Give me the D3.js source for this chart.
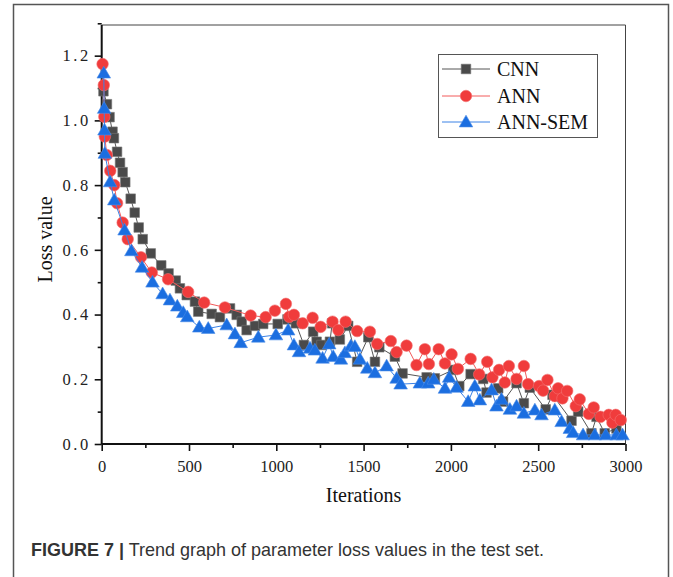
<!DOCTYPE html>
<html>
<head>
<meta charset="utf-8">
<script src="https://cdn.jsdelivr.net/npm/d3@7"></script>
<style>
  html, body { margin: 0; padding: 0; background: #fff; }
  svg { display: block; }
</style>
</head>
<body>
<svg id="chart" width="673" height="577"></svg>
<script>
// ---- Data (iterations, loss value) ----
const seriesNames = ["CNN", "ANN", "ANN-SEM"];
const cnn = [[10,1.09],[30,1.05],[45,1.01],[62,0.965],[70,0.945],[88,0.903],[105,0.869],[120,0.84],[135,0.809],[166,0.758],[189,0.715],[212,0.669],[235,0.633],[281,0.589],[341,0.552],[383,0.527],[424,0.505],[448,0.481],[487,0.46],[534,0.44],[553,0.409],[630,0.402],[677,0.392],[735,0.419],[773,0.399],[802,0.378],[830,0.352],[878,0.365],[925,0.371],[1008,0.371],[1064,0.385],[1112,0.373],[1158,0.306],[1211,0.347],[1231,0.316],[1259,0.306],[1307,0.316],[1320,0.373],[1364,0.323],[1412,0.365],[1463,0.254],[1527,0.33],[1565,0.254],[1590,0.299],[1679,0.27],[1723,0.218],[1861,0.206],[1908,0.203],[2013,0.229],[2048,0.179],[2113,0.216],[2185,0.201],[2204,0.159],[2271,0.172],[2299,0.131],[2376,0.188],[2418,0.126],[2452,0.174],[2543,0.107],[2582,0.152],[2691,0.072],[2729,0.1],[2805,0.033],[2834,0.084],[2881,0.033],[2948,0.048]];
const ann = [[5,1.174],[12,1.109],[15,1.011],[18,0.95],[29,0.893],[49,0.844],[72,0.80],[88,0.744],[120,0.684],[149,0.633],[225,0.577],[287,0.53],[380,0.509],[495,0.47],[587,0.437],[706,0.422],[853,0.397],[939,0.392],[992,0.412],[1055,0.433],[1074,0.393],[1101,0.399],[1151,0.373],[1208,0.39],[1254,0.362],[1322,0.378],[1355,0.352],[1397,0.378],[1463,0.349],[1536,0.347],[1578,0.309],[1656,0.318],[1689,0.284],[1746,0.304],[1803,0.244],[1851,0.293],[1874,0.247],[1930,0.293],[1966,0.249],[2004,0.277],[2040,0.232],[2113,0.263],[2162,0.215],[2208,0.254],[2238,0.206],[2276,0.229],[2309,0.19],[2332,0.241],[2376,0.201],[2418,0.241],[2442,0.185],[2505,0.179],[2528,0.165],[2553,0.198],[2595,0.148],[2614,0.172],[2639,0.141],[2666,0.164],[2715,0.117],[2738,0.138],[2790,0.093],[2818,0.113],[2857,0.084],[2904,0.09],[2925,0.066],[2944,0.09],[2973,0.074]];
const annSem = [[12,1.146],[14,1.037],[16,0.97],[18,0.898],[48,0.81],[72,0.754],[131,0.661],[170,0.597],[231,0.546],[291,0.5],[349,0.464],[391,0.445],[433,0.426],[467,0.406],[490,0.393],[559,0.361],[610,0.357],[716,0.368],[763,0.34],[796,0.313],[897,0.33],[998,0.337],[1068,0.352],[1101,0.306],[1130,0.285],[1193,0.296],[1221,0.29],[1265,0.265],[1303,0.309],[1326,0.27],[1370,0.262],[1393,0.282],[1427,0.303],[1450,0.301],[1479,0.262],[1521,0.234],[1565,0.22],[1632,0.241],[1689,0.203],[1712,0.185],[1822,0.188],[1870,0.188],[1902,0.2],[1966,0.172],[1990,0.206],[2032,0.175],[2099,0.131],[2137,0.179],[2166,0.136],[2233,0.167],[2261,0.117],[2290,0.138],[2338,0.107],[2376,0.117],[2418,0.095],[2481,0.105],[2519,0.09],[2595,0.105],[2634,0.069],[2681,0.048],[2700,0.035],[2757,0.028],[2824,0.028],[2887,0.028],[2948,0.028],[2983,0.028]];
const xTicks = [0, 500, 1000, 1500, 2000, 2500, 3000];
const yTicks = [0.0, 0.2, 0.4, 0.6, 0.8, 1.0, 1.2];
const xTitle = "Iterations";
const yTitle = "Loss value";
const captionBold = "FIGURE 7 |";
const captionText = " Trend graph of parameter loss values in the test set.";

// ---- Layout ----
const svg = d3.select("#chart");
const L = 101.7, R = 625.5, T = 25, B = 444;
const x = d3.scaleLinear().domain([0, 3000]).range([L, R]);
const y = d3.scaleLinear().domain([0, 1.3]).range([B, 23.3]);
const serif = "'Liberation Serif', 'DejaVu Serif', serif";

// outer figure border
svg.append("path")
  .attr("d", `M13.5,590 V4.5 H668.5 V590`)
  .attr("fill", "none").attr("stroke", "#555").attr("stroke-width", 1.5);

// top and right frame lines
svg.append("path")
  .attr("d", `M${L},${T} H${R} V${B}`)
  .attr("fill", "none").attr("stroke", "#444").attr("stroke-width", 1);

// axes
const xAxis = d3.axisBottom(x).tickValues(xTicks).tickSize(7).tickPadding(5).tickFormat(d3.format("d"));
const xMinor = d3.axisBottom(x).tickValues(d3.range(250, 3000, 500)).tickSize(4).tickFormat("");
const yAxis = d3.axisLeft(y).tickValues(yTicks).tickSize(7).tickPadding(5).tickFormat(d3.format(".1f"));
const yMinor = d3.axisLeft(y).tickValues([0.1,0.3,0.5,0.7,0.9,1.1,1.3]).tickSize(4).tickFormat("");

function styleAxis(g) {
  g.select(".domain").attr("stroke", "#111").attr("stroke-width", 2);
  g.selectAll(".tick line").attr("stroke", "#111").attr("stroke-width", 1.6);
  g.selectAll(".tick text").attr("fill", "#222").attr("font-family", serif).attr("font-size", 16.5);
}
svg.append("g").attr("transform", `translate(0,${B})`).call(xMinor).call(styleAxis).select(".domain").remove();
svg.append("g").attr("transform", `translate(${L},0)`).call(yMinor).call(styleAxis).select(".domain").remove();
const gx = svg.append("g").attr("transform", `translate(0,${B})`).call(xAxis).call(styleAxis);
gx.select(".domain").attr("d", `M${L},0H${R}`);
const gy = svg.append("g").attr("transform", `translate(${L},0)`).call(yAxis).call(styleAxis);
gy.select(".domain").attr("d", `M0,${B}V${T}`);
gx.selectAll(".tick text").attr("dy", "0.95em");
gy.selectAll(".tick text").attr("letter-spacing", "2.5px").attr("dx", "1px");

// axis titles
svg.append("text").attr("x", (L + R) / 2).attr("y", 502).attr("text-anchor", "middle")
  .attr("font-family", serif).attr("font-size", 20).attr("fill", "#111").text(xTitle);
svg.append("text").attr("transform", `translate(52,${(B + T) / 2 + 5}) rotate(-90)`)
  .attr("text-anchor", "middle").attr("font-family", serif).attr("font-size", 20)
  .attr("fill", "#111").text(yTitle);

// ---- Series ----
const styles = [
  { data: cnn, line: "#555", fill: "#4a4a4a", stroke: "#777", shape: d3.symbolSquare, size: 92 },
  { data: ann, line: "#f25a5a", fill: "#f03c3c", stroke: "#f47070", shape: d3.symbolCircle, size: 105 },
  { data: annSem, line: "#3b82e6", fill: "#1b6ee0", stroke: "#4a8ce8", shape: d3.symbolTriangle, size: 80 }
];
const line = d3.line().x(d => x(d[0])).y(d => y(d[1]));
const sym = (s) => d3.symbol().type(s.shape).size(s.size)();

styles.forEach(s => {
  const g = svg.append("g");
  g.append("path").datum(s.data).attr("d", line)
    .attr("fill", "none").attr("stroke", s.line).attr("stroke-width", 1);
  g.selectAll("path.m").data(s.data).join("path").attr("class", "m")
    .attr("d", sym(s))
    .attr("transform", d => `translate(${x(d[0])},${y(d[1]) + (s.shape === d3.symbolTriangle ? 1 : 0)})`)
    .attr("fill", s.fill).attr("stroke", s.stroke).attr("stroke-width", 0.6);
});

// ---- Legend ----
const lg = svg.append("g");
lg.append("rect").attr("x", 438.5).attr("y", 54.5).attr("width", 159).attr("height", 83)
  .attr("fill", "#fff").attr("stroke", "#555").attr("stroke-width", 1);
const legY = [69, 96, 122];
styles.forEach((s, i) => {
  lg.append("line").attr("x1", 442).attr("x2", 490).attr("y1", legY[i]).attr("y2", legY[i])
    .attr("stroke", s.line).attr("stroke-width", 1);
  lg.append("path").attr("d", sym(s))
    .attr("transform", `translate(466,${legY[i] + (s.shape === d3.symbolTriangle ? 1 : 0)})`)
    .attr("fill", s.fill).attr("stroke", s.stroke).attr("stroke-width", 0.6);
  lg.append("text").attr("x", 497).attr("y", legY[i] + 7)
    .attr("font-family", serif).attr("font-size", 20).attr("fill", "#111").text(seriesNames[i]);
});

// ---- Caption (narrow sans, fitted to the reference width) ----
const capG = svg.append("g");
const cap = capG.append("text").attr("x", 0).attr("y", 0)
  .attr("font-family", "'Liberation Sans', Arial, sans-serif").attr("font-size", 19).attr("fill", "#333");
cap.append("tspan").attr("font-weight", "bold").text(captionBold);
cap.append("tspan").text(captionText);
const capW = cap.node().getComputedTextLength();
const capTarget = 513;
capG.attr("transform", `translate(31,556) scale(${capTarget / capW},1)`);
</script>
</body>
</html>
